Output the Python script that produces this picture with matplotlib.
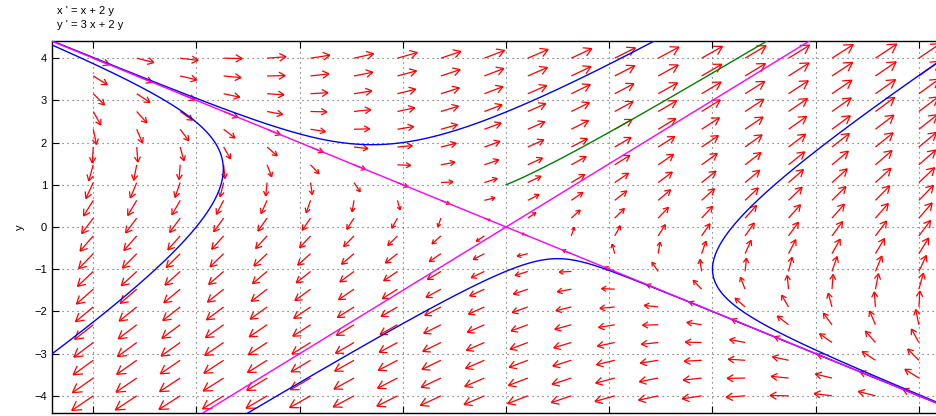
import numpy as np
import matplotlib
matplotlib.use("Agg")
import matplotlib.pyplot as plt
from matplotlib.collections import LineCollection

# system  x' = x + 2y ,  y' = 3x + 2y
coef_x = [1, 2]
coef_y = [3, 2]
A = np.array([coef_x, coef_y], dtype=float)

# window and direction-field grid
win = [-4, 4]
n_arrows = 20
xlim = [-4.4, 4.4]
ylim = [-4.4, 4.4]

# initial points of the solution curves
blue_starts = [(2.0, -1.0), (0.5, -0.75), (-2.74, 1.37), (-1.3, 1.95)]
green_start = (0.0, 1.0)

plt.rcParams['font.family'] = ['Liberation Sans', 'DejaVu Sans']

W, H = 936, 416
fig = plt.figure(figsize=(W / 100, H / 100), dpi=100)
ax_left, ax_top, ax_bottom = 52, 41.3, 412.7
ppu_x = 103.2
ppu_y = (ax_bottom - ax_top) / (ylim[1] - ylim[0])
ax_w = ppu_x * (xlim[1] - xlim[0])
ax = fig.add_axes([ax_left / W, (H - ax_bottom) / H, ax_w / W, (ax_bottom - ax_top) / H])
ax.set_xlim(xlim)
ax.set_ylim(ylim)

# direction field, arrows with open heads, tail on grid point
g = np.linspace(win[0], win[1], n_arrows)
X, Y = np.meshgrid(g, g)
U = A[0, 0] * X + A[0, 1] * Y
V = A[1, 0] * X + A[1, 1] * Y
su, sv = U * ppu_x, V * ppu_y
mag = np.hypot(su, sv)
L = 26 * (mag / mag.max()) ** (1 / 3)
ux, uy = su / mag, sv / mag
segs = []
head = 0.4
ang = np.deg2rad(30)
for i in range(n_arrows):
    for j in range(n_arrows):
        x0, y0 = X[i, j], Y[i, j]
        l = L[i, j]
        dx, dy = ux[i, j], uy[i, j]
        tx, ty = x0 + l * dx / ppu_x, y0 + l * dy / ppu_y
        segs.append([(x0, y0), (tx, ty)])
        for s in (ang, -ang):
            bx = -(dx * np.cos(s) - dy * np.sin(s))
            by = -(dx * np.sin(s) + dy * np.cos(s))
            segs.append([(tx, ty), (tx + head * l * bx / ppu_x, ty + head * l * by / ppu_y)])
ax.add_collection(LineCollection(segs, colors='#ff0000', linewidths=0.9, zorder=2))

# solutions via eigen decomposition
lam, vec = np.linalg.eig(A)
vinv = np.linalg.inv(vec)


def solution(p0, t):
    c = vinv @ np.array(p0)
    pts = vec @ (c[:, None] * np.exp(np.outer(lam, t)))
    out = (np.abs(pts[0]) > 6) | (np.abs(pts[1]) > 6)
    pts[:, out] = np.nan
    return pts[0], pts[1]


t_full = np.linspace(-6, 3, 20000)
for p0 in blue_starts:
    xs, ys = solution(p0, t_full)
    ax.plot(xs, ys, color='#0000ff', lw=1.0, zorder=3)

xs, ys = solution(green_start, np.linspace(0, 2, 5000))
ax.plot(xs, ys, color=(0, 0.5, 0), lw=1.0, zorder=3)

# separatrices along the eigenvectors
s = np.linspace(-10, 10, 2)
for k in range(2):
    ax.plot(s * vec[0, k], s * vec[1, k], color='#ff00ff', lw=1.0, zorder=3)

ax.set_xticks(np.arange(-4, 5))
ax.set_yticks(np.arange(-4, 5))
ax.grid(True, color='0.35', linestyle=(0, (1, 3.5)), linewidth=0.8)
ax.tick_params(direction='in', length=5, top=True, right=True, labelsize=8, width=0.8)
ax.tick_params(axis='x', labelbottom=False)
for sp in ax.spines.values():
    sp.set_linewidth(1.0)

fig.text(20 / W, 1 - 227 / H, 'y', rotation=90, fontsize=8, ha='center', va='center')
fig.text(57 / W, 1 - 11.5 / H, "x ' = x + 2 y", fontsize=8, va='center')
fig.text(57 / W, 1 - 25.5 / H, "y ' = 3 x + 2 y", fontsize=8, va='center')

fig.savefig('out.png', dpi=100)
